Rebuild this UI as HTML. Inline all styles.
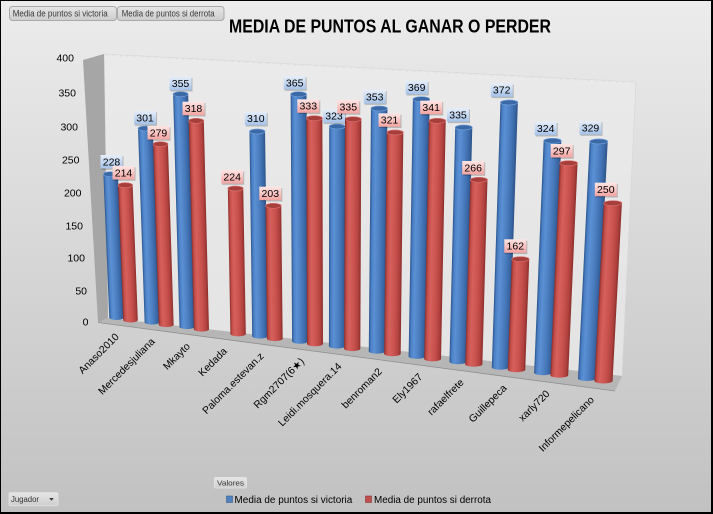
<!DOCTYPE html>
<html><head><meta charset="utf-8"><style>
html,body{margin:0;padding:0;background:#fff;}
svg{display:block;}
text{font-family:"Liberation Sans","DejaVu Sans",sans-serif;}
.tb{fill:#3b69a5;stroke:#6e9dd9;stroke-width:0.7;}
.tr{fill:#a63e3b;stroke:#da716d;stroke-width:0.7;}
.sh{fill:#000;opacity:0.22;}
.lt{font-size:10.5px;fill:#000;text-anchor:middle;}
.ax{font-size:10.5px;fill:#000;text-anchor:end;}
.cat{font-size:10.3px;fill:#000;text-anchor:end;}
</style></head><body>
<svg width="713" height="514" viewBox="0 0 713 514" xmlns="http://www.w3.org/2000/svg">
<defs>
<linearGradient id="bg" x1="0" y1="0" x2="0" y2="1"><stop offset="0" stop-color="#ececec"/><stop offset="1" stop-color="#c1c1c1"/></linearGradient>
<linearGradient id="wall" x1="0" y1="0" x2="0" y2="1"><stop offset="0" stop-color="#eaeaea"/><stop offset="1" stop-color="#e3e3e3"/></linearGradient>
<linearGradient id="gb" x1="0" y1="0" x2="1" y2="0">
<stop offset="0" stop-color="#2a548c"/><stop offset="0.12" stop-color="#4a7fc4"/><stop offset="0.3" stop-color="#5b90d4"/><stop offset="0.6" stop-color="#4a7dbf"/><stop offset="0.85" stop-color="#3a67a5"/><stop offset="1" stop-color="#2b5288"/></linearGradient>
<linearGradient id="gr" x1="0" y1="0" x2="1" y2="0">
<stop offset="0" stop-color="#8c2e2b"/><stop offset="0.12" stop-color="#c24d49"/><stop offset="0.3" stop-color="#d6605c"/><stop offset="0.6" stop-color="#c9524e"/><stop offset="0.85" stop-color="#b0413e"/><stop offset="1" stop-color="#8a2f2c"/></linearGradient>
<linearGradient id="lb" x1="0" y1="0" x2="0" y2="1"><stop offset="0" stop-color="#e6eef9"/><stop offset="1" stop-color="#a5c2e9"/></linearGradient>
<linearGradient id="lr" x1="0" y1="0" x2="0" y2="1"><stop offset="0" stop-color="#fde6e5"/><stop offset="1" stop-color="#f3a4a1"/></linearGradient>
<linearGradient id="btn" x1="0" y1="0" x2="0" y2="1"><stop offset="0" stop-color="#e6e6e6"/><stop offset="1" stop-color="#cdcdcd"/></linearGradient>
</defs>

<rect x="0" y="0" width="713" height="514" fill="url(#bg)"/>

<!-- walls / floor -->
<polygon points="104,54 636,82 622,376 108,318" fill="url(#wall)" stroke="#d6d6d6" stroke-width="0.6"/>
<line x1="106" y1="55" x2="634" y2="83" stroke="#cfcfcf" stroke-width="0.8" stroke-dasharray="1 6"/>
<polygon points="83,60 104,54 108,318 98,322.5" fill="#a6a6a6"/>
<polygon points="98,322.5 108,318 622,376 615,391" fill="#b6b6b6"/>
<line x1="98" y1="322.5" x2="615" y2="391" stroke="#8f8f8f" stroke-width="0.8"/>

<!-- bars -->
<g transform="translate(116.5,317.5) skewX(2.344)"><ellipse rx="7.25" ry="2.5" fill="url(#gb)"/><rect x="-7.25" y="-143.3" width="14.5" height="143.3" fill="url(#gb)"/><ellipse cy="-143.3" rx="7.25" ry="2.5" class="tb"/></g>
<g transform="translate(130.5,320) skewX(2.190)"><ellipse rx="7.3" ry="2.5" fill="url(#gr)"/><rect x="-7.3" y="-134.8" width="14.6" height="134.8" fill="url(#gr)"/><ellipse cy="-134.8" rx="7.3" ry="2.5" class="tr"/></g>

<g transform="translate(152,322.1) skewX(1.954)"><ellipse rx="7.38" ry="2.5" fill="url(#gb)"/><rect x="-7.38" y="-193.6" width="14.76" height="193.6" fill="url(#gb)"/><ellipse cy="-193.6" rx="7.38" ry="2.5" class="tb"/></g>
<g transform="translate(166.2,324.6) skewX(1.799)"><ellipse rx="7.43" ry="2.5" fill="url(#gr)"/><rect x="-7.43" y="-180.4" width="14.86" height="180.4" fill="url(#gr)"/><ellipse cy="-180.4" rx="7.43" ry="2.5" class="tr"/></g>

<g transform="translate(187,326.6) skewX(1.570)"><ellipse rx="7.51" ry="2.5" fill="url(#gb)"/><rect x="-7.51" y="-232.4" width="15.02" height="232.4" fill="url(#gb)"/><ellipse cy="-232.4" rx="7.51" ry="2.5" class="tb"/></g>
<g transform="translate(201.4,329.1) skewX(1.412)"><ellipse rx="7.57" ry="2.5" fill="url(#gr)"/><rect x="-7.57" y="-208.3" width="15.14" height="208.3" fill="url(#gr)"/><ellipse cy="-208.3" rx="7.57" ry="2.5" class="tr"/></g>

<g transform="translate(238.1,333.9) skewX(1.009)"><ellipse rx="7.7" ry="2.5" fill="url(#gr)"/><rect x="-7.7" y="-145.4" width="15.4" height="145.4" fill="url(#gr)"/><ellipse cy="-145.4" rx="7.7" ry="2.5" class="tr"/></g>

<g transform="translate(260,336.1) skewX(0.769)"><ellipse rx="7.79" ry="2.5" fill="url(#gb)"/><rect x="-7.79" y="-204.6" width="15.58" height="204.6" fill="url(#gb)"/><ellipse cy="-204.6" rx="7.79" ry="2.5" class="tb"/></g>
<g transform="translate(274.8,338.6) skewX(0.606)"><ellipse rx="7.85" ry="2.5" fill="url(#gr)"/><rect x="-7.85" y="-132.8" width="15.7" height="132.8" fill="url(#gr)"/><ellipse cy="-132.8" rx="7.85" ry="2.5" class="tr"/></g>

<g transform="translate(300,341.3) skewX(0.329)"><ellipse rx="7.94" ry="2.5" fill="url(#gb)"/><rect x="-7.94" y="-247.1" width="15.88" height="247.1" fill="url(#gb)"/><ellipse cy="-247.1" rx="7.94" ry="2.5" class="tb"/></g>
<g transform="translate(315,343.8) skewX(0.165)"><ellipse rx="8" ry="2.5" fill="url(#gr)"/><rect x="-8" y="-225.6" width="16" height="225.6" fill="url(#gr)"/><ellipse cy="-225.6" rx="8" ry="2.5" class="tr"/></g>

<g transform="translate(337,346.1) skewX(-0.077)"><ellipse rx="8.08" ry="2.5" fill="url(#gb)"/><rect x="-8.08" y="-219.6" width="16.16" height="219.6" fill="url(#gb)"/><ellipse cy="-219.6" rx="8.08" ry="2.5" class="tb"/></g>
<g transform="translate(352.2,348.6) skewX(-0.244)"><ellipse rx="8.13" ry="2.5" fill="url(#gr)"/><rect x="-8.13" y="-229.4" width="16.26" height="229.4" fill="url(#gr)"/><ellipse cy="-229.4" rx="8.13" ry="2.5" class="tr"/></g>

<g transform="translate(377,351.2) skewX(-0.516)"><ellipse rx="8.23" ry="2.5" fill="url(#gb)"/><rect x="-8.23" y="-242.7" width="16.46" height="242.7" fill="url(#gb)"/><ellipse cy="-242.7" rx="8.23" ry="2.5" class="tb"/></g>
<g transform="translate(392.4,353.7) skewX(-0.685)"><ellipse rx="8.28" ry="2.5" fill="url(#gr)"/><rect x="-8.28" y="-221.2" width="16.56" height="221.2" fill="url(#gr)"/><ellipse cy="-221.2" rx="8.28" ry="2.5" class="tr"/></g>

<g transform="translate(417,356.4) skewX(-0.955)"><ellipse rx="8.38" ry="2.5" fill="url(#gb)"/><rect x="-8.38" y="-257.2" width="16.76" height="257.2" fill="url(#gb)"/><ellipse cy="-257.2" rx="8.38" ry="2.5" class="tb"/></g>
<g transform="translate(432.6,358.9) skewX(-1.127)"><ellipse rx="8.43" ry="2.5" fill="url(#gr)"/><rect x="-8.43" y="-238.1" width="16.86" height="238.1" fill="url(#gr)"/><ellipse cy="-238.1" rx="8.43" ry="2.5" class="tr"/></g>

<g transform="translate(458,361.7) skewX(-1.405)"><ellipse rx="8.53" ry="2.5" fill="url(#gb)"/><rect x="-8.53" y="-234.2" width="17.06" height="234.2" fill="url(#gb)"/><ellipse cy="-234.2" rx="8.53" ry="2.5" class="tb"/></g>
<g transform="translate(473.8,364.2) skewX(-1.579)"><ellipse rx="8.58" ry="2.5" fill="url(#gr)"/><rect x="-8.58" y="-184.4" width="17.16" height="184.4" fill="url(#gr)"/><ellipse cy="-184.4" rx="8.58" ry="2.5" class="tr"/></g>

<g transform="translate(500.5,367.2) skewX(-1.872)"><ellipse rx="8.69" ry="2.5" fill="url(#gb)"/><rect x="-8.69" y="-264.7" width="17.38" height="264.7" fill="url(#gb)"/><ellipse cy="-264.7" rx="8.69" ry="2.5" class="tb"/></g>
<g transform="translate(516.5,369.7) skewX(-2.048)"><ellipse rx="8.75" ry="2.5" fill="url(#gr)"/><rect x="-8.75" y="-110.5" width="17.5" height="110.5" fill="url(#gr)"/><ellipse cy="-110.5" rx="8.75" ry="2.5" class="tr"/></g>

<g transform="translate(543,372.7) skewX(-2.339)"><ellipse rx="8.85" ry="2.5" fill="url(#gb)"/><rect x="-8.85" y="-231.9" width="17.7" height="231.9" fill="url(#gb)"/><ellipse cy="-231.9" rx="8.85" ry="2.5" class="tb"/></g>
<g transform="translate(559.3,375.2) skewX(-2.518)"><ellipse rx="8.91" ry="2.5" fill="url(#gr)"/><rect x="-8.91" y="-212" width="17.82" height="212" fill="url(#gr)"/><ellipse cy="-212" rx="8.91" ry="2.5" class="tr"/></g>

<g transform="translate(587,378.5) skewX(-2.822)"><ellipse rx="9" ry="2.5" fill="url(#gb)"/><rect x="-9" y="-237" width="18" height="237" fill="url(#gb)"/><ellipse cy="-237" rx="9" ry="2.5" class="tb"/></g>
<g transform="translate(603.5,381) skewX(-3.003)"><ellipse rx="9.07" ry="2.5" fill="url(#gr)"/><rect x="-9.07" y="-177.8" width="18.14" height="177.8" fill="url(#gr)"/><ellipse cy="-177.8" rx="9.07" ry="2.5" class="tr"/></g>

<!-- data labels -->
<g transform="translate(111.5,155)"><rect x="-10" y="1.3" width="22" height="13.5" class="sh"/><rect x="-11" y="0" width="22" height="13.5" fill="url(#lb)"/><text class="lt" x="0" y="10.3">228</text></g>
<g transform="translate(123.5,166)"><rect x="-10" y="1.3" width="22" height="13.5" class="sh"/><rect x="-11" y="0" width="22" height="13.5" fill="url(#lr)"/><text class="lt" x="0" y="10.3">214</text></g>
<g transform="translate(145,111)"><rect x="-10" y="1.3" width="22" height="13.5" class="sh"/><rect x="-11" y="0" width="22" height="13.5" fill="url(#lb)"/><text class="lt" x="0" y="10.3">301</text></g>
<g transform="translate(158.5,126)"><rect x="-10" y="1.3" width="22" height="13.5" class="sh"/><rect x="-11" y="0" width="22" height="13.5" fill="url(#lr)"/><text class="lt" x="0" y="10.3">279</text></g>
<g transform="translate(180.5,76.7)"><rect x="-10" y="1.3" width="22" height="13.5" class="sh"/><rect x="-11" y="0" width="22" height="13.5" fill="url(#lb)"/><text class="lt" x="0" y="10.3">355</text></g>
<g transform="translate(193.5,101.7)"><rect x="-10" y="1.3" width="22" height="13.5" class="sh"/><rect x="-11" y="0" width="22" height="13.5" fill="url(#lr)"/><text class="lt" x="0" y="10.3">318</text></g>
<g transform="translate(232.2,170)"><rect x="-10" y="1.3" width="22" height="13.5" class="sh"/><rect x="-11" y="0" width="22" height="13.5" fill="url(#lr)"/><text class="lt" x="0" y="10.3">224</text></g>
<g transform="translate(255.8,111.7)"><rect x="-10" y="1.3" width="22" height="13.5" class="sh"/><rect x="-11" y="0" width="22" height="13.5" fill="url(#lb)"/><text class="lt" x="0" y="10.3">310</text></g>
<g transform="translate(270.3,186.7)"><rect x="-10" y="1.3" width="22" height="13.5" class="sh"/><rect x="-11" y="0" width="22" height="13.5" fill="url(#lr)"/><text class="lt" x="0" y="10.3">203</text></g>
<g transform="translate(294.7,76)"><rect x="-10" y="1.3" width="22" height="13.5" class="sh"/><rect x="-11" y="0" width="22" height="13.5" fill="url(#lb)"/><text class="lt" x="0" y="10.3">365</text></g>
<g transform="translate(308.3,99.3)"><rect x="-10" y="1.3" width="22" height="13.5" class="sh"/><rect x="-11" y="0" width="22" height="13.5" fill="url(#lr)"/><text class="lt" x="0" y="10.3">333</text></g>
<g transform="translate(334,109.3)"><rect x="-10" y="1.3" width="22" height="13.5" class="sh"/><rect x="-11" y="0" width="22" height="13.5" fill="url(#lb)"/><text class="lt" x="0" y="10.3">323</text></g>
<g transform="translate(348.3,100)"><rect x="-10" y="1.3" width="22" height="13.5" class="sh"/><rect x="-11" y="0" width="22" height="13.5" fill="url(#lr)"/><text class="lt" x="0" y="10.3">335</text></g>
<g transform="translate(374.7,90)"><rect x="-10" y="1.3" width="22" height="13.5" class="sh"/><rect x="-11" y="0" width="22" height="13.5" fill="url(#lb)"/><text class="lt" x="0" y="10.3">353</text></g>
<g transform="translate(389.5,113.3)"><rect x="-10" y="1.3" width="22" height="13.5" class="sh"/><rect x="-11" y="0" width="22" height="13.5" fill="url(#lr)"/><text class="lt" x="0" y="10.3">321</text></g>
<g transform="translate(416.7,80.7)"><rect x="-10" y="1.3" width="22" height="13.5" class="sh"/><rect x="-11" y="0" width="22" height="13.5" fill="url(#lb)"/><text class="lt" x="0" y="10.3">369</text></g>
<g transform="translate(431.2,100.7)"><rect x="-10" y="1.3" width="22" height="13.5" class="sh"/><rect x="-11" y="0" width="22" height="13.5" fill="url(#lr)"/><text class="lt" x="0" y="10.3">341</text></g>
<g transform="translate(458,108.3)"><rect x="-10" y="1.3" width="22" height="13.5" class="sh"/><rect x="-11" y="0" width="22" height="13.5" fill="url(#lb)"/><text class="lt" x="0" y="10.3">335</text></g>
<g transform="translate(473.2,161)"><rect x="-10" y="1.3" width="22" height="13.5" class="sh"/><rect x="-11" y="0" width="22" height="13.5" fill="url(#lr)"/><text class="lt" x="0" y="10.3">266</text></g>
<g transform="translate(501.7,83.3)"><rect x="-10" y="1.3" width="22" height="13.5" class="sh"/><rect x="-11" y="0" width="22" height="13.5" fill="url(#lb)"/><text class="lt" x="0" y="10.3">372</text></g>
<g transform="translate(515.3,239.3)"><rect x="-10" y="1.3" width="22" height="13.5" class="sh"/><rect x="-11" y="0" width="22" height="13.5" fill="url(#lr)"/><text class="lt" x="0" y="10.3">162</text></g>
<g transform="translate(545.7,121.7)"><rect x="-10" y="1.3" width="22" height="13.5" class="sh"/><rect x="-11" y="0" width="22" height="13.5" fill="url(#lb)"/><text class="lt" x="0" y="10.3">324</text></g>
<g transform="translate(561.7,144)"><rect x="-10" y="1.3" width="22" height="13.5" class="sh"/><rect x="-11" y="0" width="22" height="13.5" fill="url(#lr)"/><text class="lt" x="0" y="10.3">297</text></g>
<g transform="translate(590.5,121)"><rect x="-10" y="1.3" width="22" height="13.5" class="sh"/><rect x="-11" y="0" width="22" height="13.5" fill="url(#lb)"/><text class="lt" x="0" y="10.3">329</text></g>
<g transform="translate(605.8,182.7)"><rect x="-10" y="1.3" width="22" height="13.5" class="sh"/><rect x="-11" y="0" width="22" height="13.5" fill="url(#lr)"/><text class="lt" x="0" y="10.3">250</text></g>

<!-- y axis labels -->
<text class="ax" x="74" y="61.7">400</text>
<text class="ax" x="76" y="96.7">350</text>
<text class="ax" x="78" y="130.7">300</text>
<text class="ax" x="79.5" y="163.7">250</text>
<text class="ax" x="81.5" y="196.7">200</text>
<text class="ax" x="83" y="229.7">150</text>
<text class="ax" x="85" y="261.7">100</text>
<text class="ax" x="87" y="294.7">50</text>
<text class="ax" x="88.5" y="325.7">0</text>

<!-- category labels -->
<text class="cat" transform="translate(119.5,337.5) rotate(-45)">Anaso2010</text>
<text class="cat" transform="translate(155.4,342.2) rotate(-45)">Mercedesjuliana</text>
<text class="cat" transform="translate(190.7,346.9) rotate(-45)">Mkayto</text>
<text class="cat" transform="translate(227.6,351.8) rotate(-45)">Kedada</text>
<text class="cat" transform="translate(264.4,356.7) rotate(-45)">Paloma.estevan.z</text>
<text class="cat" transform="translate(304.8,362) rotate(-45)">Rgm2707(6★)</text>
<text class="cat" transform="translate(342.2,367) rotate(-45)">Leidi.mosquera.14</text>
<text class="cat" transform="translate(382.6,372.2) rotate(-45)">benroman2</text>
<text class="cat" transform="translate(423,377.6) rotate(-45)">Ely1967</text>
<text class="cat" transform="translate(464.4,383.1) rotate(-45)">rafaelfrete</text>
<text class="cat" transform="translate(507.3,388.7) rotate(-45)">Guillepeca</text>
<text class="cat" transform="translate(550.3,394.4) rotate(-45)">xarly720</text>
<text class="cat" transform="translate(594.7,400.4) rotate(-45)">Informepelicano</text>

<!-- title -->
<text x="229" y="32.5" font-size="18" font-weight="bold" fill="#000" textLength="322" lengthAdjust="spacingAndGlyphs">MEDIA DE PUNTOS AL GANAR O PERDER</text>

<!-- field buttons -->
<rect x="9.5" y="6.5" width="107" height="14" rx="3" fill="url(#btn)" stroke="#a9a9a9" stroke-width="1"/>
<rect x="117.5" y="6.5" width="106.5" height="14" rx="3" fill="url(#btn)" stroke="#a9a9a9" stroke-width="1"/>
<text x="12.7" y="16.6" font-size="8.8" fill="#3a3a3a" textLength="95" lengthAdjust="spacingAndGlyphs">Media de puntos si victoria</text>
<text x="121.7" y="16.6" font-size="8.8" fill="#3a3a3a" textLength="93" lengthAdjust="spacingAndGlyphs">Media de puntos si derrota</text>

<rect x="214.5" y="477.5" width="32" height="10.5" rx="1.5" fill="url(#btn)" stroke="#e8e8e8" stroke-width="0.8"/>
<text x="217" y="485.6" font-size="7.5" fill="#333" textLength="27" lengthAdjust="spacingAndGlyphs">Valores</text>

<rect x="9" y="492.7" width="49" height="13" rx="1.5" fill="url(#btn)" stroke="#e4e4e4" stroke-width="0.8"/>
<text x="11" y="502" font-size="8" fill="#333" textLength="28" lengthAdjust="spacingAndGlyphs">Jugador</text>
<polygon points="49.3,498 53.7,498 51.5,500.8" fill="#333"/>

<!-- legend -->
<rect x="226.5" y="496" width="6" height="6.5" fill="#4f81bd" stroke="#385d8a" stroke-width="0.6"/>
<text x="234.5" y="503" font-size="10" fill="#000" textLength="117.8" lengthAdjust="spacingAndGlyphs">Media de puntos si victoria</text>
<rect x="365.5" y="496" width="6" height="6.5" fill="#c0504d" stroke="#8c3836" stroke-width="0.6"/>
<text x="374" y="503" font-size="10" fill="#000" textLength="117" lengthAdjust="spacingAndGlyphs">Media de puntos si derrota</text>

<!-- border -->
<rect x="0" y="0" width="713" height="1" fill="#000"/>
<rect x="0" y="0" width="1" height="514" fill="#000"/>
<rect x="711" y="0" width="2" height="514" fill="#000"/>
<rect x="0" y="512" width="713" height="2" fill="#000"/>
</svg>
</body></html>
